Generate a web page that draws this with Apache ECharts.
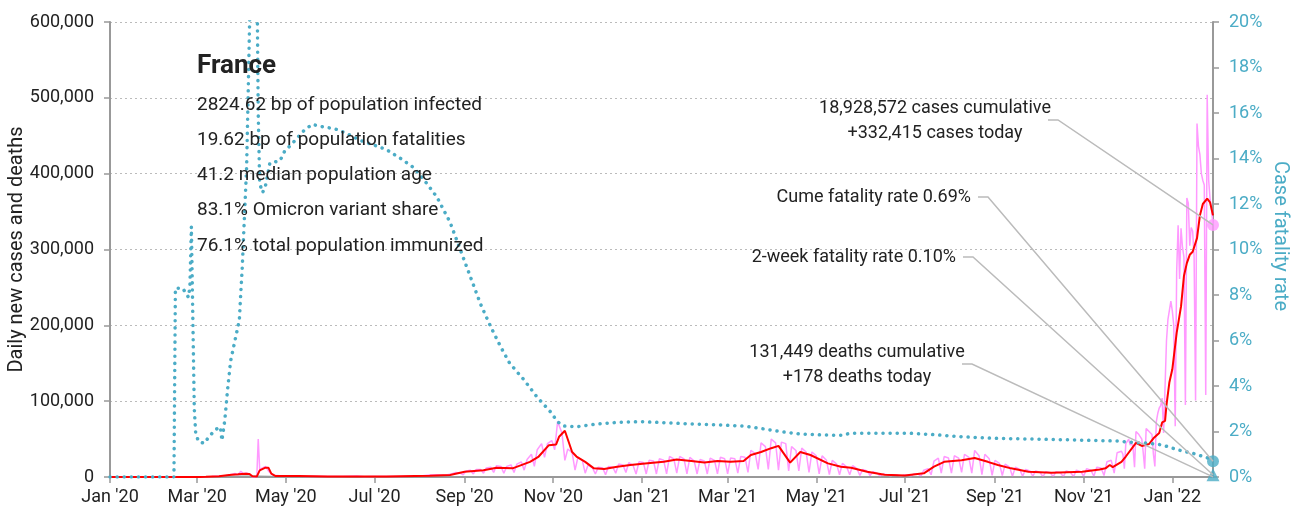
<!DOCTYPE html>
<html>
<head>
<meta charset="utf-8">
<title>France COVID-19</title>
<script src="https://cdn.jsdelivr.net/npm/echarts@6/dist/echarts.min.js"></script>
<style>
  html, body { margin: 0; padding: 0; background: #fff; }
  #main { width: 1295px; height: 515px; }
</style>
</head>
<body>
<div id="main"></div>
<script>
// day numbers count from 2020-01-01, case values in thousands
var T0 = Date.UTC(2020, 0, 1);
var DAY = 86400000;
var lastDay = 759; // 2022-01-29

var monthTicks = ['2020-01-01', '2020-03-01', '2020-05-01', '2020-07-01', '2020-09-01', '2020-11-01',
  '2021-01-01', '2021-03-01', '2021-05-01', '2021-07-01', '2021-09-01', '2021-11-01', '2022-01-01'];
var monthNames = ['Jan', 'Feb', 'Mar', 'Apr', 'May', 'Jun', 'Jul', 'Aug', 'Sep', 'Oct', 'Nov', 'Dec'];

// daily new cases, Jan - Aug 2020 [day, k]
var casesEarly = [[0, 0], [55, 0], [62, 0.1], [70, 0.5], [75, 1.2], [80, 2], [84, 3.8], [86, 4.6], [88, 2.6],
  [90, 7.5], [92, 4.3], [94, 5.2], [96, 3.5], [98, 0], [101, 0], [102, 50], [103, 10], [105, 12], [107, 14],
  [109, 8], [111, 4], [113, 1.5], [115, 2], [120, 1], [125, 1.5], [130, 1.2], [135, 0.5], [140, 1], [150, 0.6],
  [160, 0.5], [170, 1.2], [175, 0.4], [180, 0.6], [190, 0.5], [200, 0.8], [210, 1.3], [215, 1.5], [220, 2.5],
  [225, 3], [230, 2.2], [235, 4], [238, 6], [241, 5]];
// weekly [Mon, Wed, Sat] daily cases from Mon 2020-08-31 (day 243) to Mon 2021-11-22
var weeklyStart = 243;
var casesWeekly = [[3, 8, 9], [4, 10, 10], [5, 12, 13], [6, 15, 14], [5, 14, 16], [6, 17, 20], [9, 23, 30],
  [14, 36, 44], [26, 44, 48], [36, 73, 58], [22, 37, 32], [9, 26, 22], [5, 16, 12], [4, 13, 12], [3, 14, 13],
  [5, 17, 16], [6, 19, 15], [4, 20, 19], [4, 22, 21], [4, 24, 22], [4, 27, 24], [5, 27, 24], [4, 26, 21],
  [4, 23, 21], [4, 25, 22], [4, 26, 24], [4, 25, 24], [5, 27, 26], [6, 35, 31], [10, 45, 40], [10, 50, 45],
  [9, 46, 44], [8, 40, 35], [8, 38, 33], [6, 33, 28], [4, 28, 22], [3, 22, 17], [3, 18, 13], [3, 15, 11],
  [2, 10, 8], [2, 7, 5], [1, 4, 3], [0.5, 3, 2.5], [0.5, 2.5, 2.5], [0.5, 4, 4], [1, 9, 11], [3, 21, 25],
  [5, 27, 25], [5, 28, 25], [6, 30, 26], [5, 35, 28], [3, 30, 24], [2, 22, 18], [2, 17, 13], [1, 13, 10],
  [1, 10, 8], [1, 8, 6], [0.5, 7, 5.5], [0.5, 7, 5.5], [0.5, 8, 6], [0.5, 9, 7], [1, 11, 9], [1, 13, 12],
  [2, 20, 22], [5, 32, 34]];
// daily cases from Sun 2021-11-28 (day 697) to 2022-01-29
var lateStart = 697;
var casesLate = [30, 11, 44, 47, 50, 42, 45, 38, 13, 60, 58, 56, 54, 50, 32, 11, 64, 62, 60, 58, 56, 30,
  14, 73, 84, 91, 94, 104, 58, 60, 180, 208, 206, 232, 219, 200, 67, 271, 332, 261, 328, 303, 290, 95,
  368, 361, 305, 329, 324, 290, 101, 466, 436, 425, 400, 391, 385, 108, 504, 392, 366, 353, 332.415];

// 7-day average of new cases [day, k]
var casesAvg = [[0, 0], [62, 0], [66, 0.2], [75, 1], [82, 2.5], [88, 3.5], [93, 4.4], [96, 4], [98, 1], [101, 0.5],
  [103, 8.8], [107, 12.3], [109, 12.3], [111, 4.4], [114, 1.3], [130, 1.2], [150, 0.6], [170, 0.5], [190, 0.6],
  [210, 1.2], [220, 1.5], [234, 2.6], [244, 7], [257, 9], [266, 12.3], [277, 11.4], [289, 20], [295, 27],
  [302, 42], [307, 43], [309, 53], [313, 61], [318, 33], [321, 27], [327, 20], [333, 11.4], [340, 10.5],
  [349, 13.6], [358, 15.8], [370, 18], [381, 20], [390, 23], [400, 21], [409, 19], [418, 21], [427, 20],
  [436, 21], [441, 29], [448, 33], [455, 38], [460, 41], [468, 19], [475, 33], [482, 29], [494, 18],
  [503, 13.6], [510, 12.3], [521, 7], [533, 3], [547, 2], [560, 4.8], [567, 13.6], [574, 20], [586, 22],
  [595, 25], [604, 20], [611, 15.8], [620, 11.4], [632, 7], [648, 5.7], [669, 7], [681, 10], [685, 11.4],
  [688, 15.8], [690, 13], [696, 20], [699, 27], [706, 45], [710, 41], [715, 43.5], [718, 51], [722, 58],
  [724, 72], [726, 74], [727, 95], [729, 125], [731, 142], [734, 190], [737, 225], [739, 265], [741, 282],
  [743, 293], [745, 297], [748, 315], [750, 345], [752, 360], [755, 367], [757, 362], [759, 345]];

// daily deaths [day, count]
var deathsDaily = [[0, 0], [60, 0], [75, 100], [90, 1000], [100, 1000], [120, 300], [150, 50], [200, 15],
  [240, 30], [280, 100], [305, 400], [320, 450], [360, 250], [400, 350], [450, 300], [470, 350], [500, 150],
  [540, 30], [600, 100], [650, 30], [700, 100], [730, 200], [759, 178]];

// cumulative case fatality rate [day, %]
var fatalityRate = [[0, 0], [44, 0], [45, 8.3], [50, 8.3], [54, 7.9], [55, 8.4], [56, 11.0], [58, 3], [59, 1.9],
  [61, 1.55], [65, 1.48], [68, 1.77], [73, 2.1], [76, 2.2], [77, 1.6], [79, 2.5], [81, 3.9], [83, 5.1],
  [87, 6.3], [89, 6.9], [90, 8.1], [91, 9.2], [92, 10.7], [94, 13.6], [95, 16.6], [96, 19.8], [97, 23],
  [101, 23], [102, 16], [103, 12.9], [105, 12.5], [107, 12.8], [110, 13.8], [117, 13.9], [120, 14.3],
  [126, 14.7], [133, 15.2], [139, 15.5], [146, 15.4], [155, 15.3], [163, 15.1], [172, 14.8], [181, 14.6],
  [190, 14.4], [200, 14.0], [209, 13.6], [218, 12.9], [225, 12.3], [234, 11.2], [241, 10.0], [248, 8.8],
  [255, 7.6], [262, 6.6], [269, 5.7], [275, 5.0], [285, 4.26], [294, 3.5], [303, 2.87], [308, 2.43],
  [312, 2.24], [321, 2.21], [335, 2.33], [349, 2.40], [365, 2.43], [381, 2.39], [400, 2.33], [418, 2.29],
  [436, 2.24], [447, 2.14], [462, 1.99], [475, 1.89], [489, 1.85], [504, 1.83], [509, 1.92], [551, 1.92],
  [567, 1.86], [586, 1.77], [609, 1.70], [632, 1.67], [655, 1.64], [694, 1.58], [698, 1.55], [715, 1.48],
  [724, 1.41], [735, 1.19], [747, 1.01], [756, 0.82], [759, 0.69]];

var casesToday = 332415;
var deathsToday = 178;
var cumeRate = 0.69;
var twoWeekRate = 0.10;

var infoTitle = 'France';
var infoLines = ['2824.62 bp of population infected', '19.62 bp of population fatalities',
  '41.2 median population age', '83.1% Omicron variant share', '76.1% total population immunized'];

var FONT = 'Roboto, "Liberation Sans", sans-serif';
var TEAL = '#4bacc6';
var PINK = '#ff99ff';
var INK = '#222';

function kPairs(list) { return list.map(function (p) { return [p[0], p[1] * 1000]; }); }

var dailyCases = kPairs(casesEarly);
casesWeekly.forEach(function (w, i) {
  var m = weeklyStart + i * 7;
  dailyCases.push([m, w[0] * 1000], [m + 2, w[1] * 1000], [m + 5, w[2] * 1000]);
});
casesLate.forEach(function (v, i) { dailyCases.push([lateStart + i, v * 1000]); });

var tickDays = monthTicks.map(function (s) { return Math.round((Date.parse(s) - T0) / DAY); });

var chart = echarts.init(document.getElementById('main'));

var option = {
  animation: false,
  textStyle: { fontFamily: FONT },
  grid: { left: 110, right: 82, top: 22, bottom: 38, containLabel: false, outerBoundsMode: 'none' },
  xAxis: {
    type: 'value',
    min: 0,
    max: lastDay,
    axisLine: { lineStyle: { color: '#999', width: 2 } },
    axisTick: { show: true, length: 6, lineStyle: { color: '#999', width: 1.5 }, customValues: tickDays },
    axisLabel: {
      color: INK, fontSize: 18, fontFamily: FONT, margin: 11, customValues: tickDays,
      formatter: function (v) {
        var d = new Date(T0 + v * DAY);
        return monthNames[d.getUTCMonth()] + " '" + String(d.getUTCFullYear()).slice(2);
      }
    },
    splitLine: { show: false }
  },
  yAxis: [{
    type: 'value', min: 0, max: 600000, interval: 100000,
    name: 'Daily new cases and deaths', nameLocation: 'middle', nameGap: 83, nameMoveOverlap: false,
    nameTextStyle: { color: INK, fontSize: 20, fontFamily: FONT },
    axisLine: { show: true, lineStyle: { color: '#999', width: 2 } },
    axisTick: { show: true, length: 6, lineStyle: { color: '#999', width: 1.5 } },
    axisLabel: { color: INK, fontSize: 18, fontFamily: FONT, margin: 16,
      formatter: function (v) { return v.toLocaleString('en-US'); } },
    splitLine: { show: true, lineStyle: { color: '#bbb', type: [2, 3], width: 1 } }
  }, {
    type: 'value', min: 0, max: 20, interval: 2, position: 'right',
    axisLine: { show: true, lineStyle: { color: '#999', width: 2 } },
    axisTick: { show: true, length: 6, lineStyle: { color: '#999', width: 1.5 } },
    axisLabel: { color: TEAL, fontSize: 18, fontFamily: FONT, margin: 16, formatter: '{value}%' },
    splitLine: { show: false }
  }],
  series: [{
    name: 'Daily cases', type: 'line', data: dailyCases, showSymbol: false, symbol: 'none',
    lineStyle: { color: PINK, width: 1.5 }, z: 2
  }, {
    name: '7-day average', type: 'line', data: kPairs(casesAvg), symbol: 'none',
    lineStyle: { color: '#ff0000', width: 2 }, z: 3
  }, {
    name: 'Daily deaths', type: 'line', data: deathsDaily, symbol: 'none',
    lineStyle: { color: '#999', width: 1.5 }, z: 2
  }, {
    name: 'Case fatality rate', type: 'line', yAxisIndex: 1, symbol: 'none', clip: true,
    data: fatalityRate,
    lineStyle: { color: TEAL, width: 3.5, type: [0.1, 7], cap: 'round' }, z: 4
  }, {
    type: 'scatter', data: [[lastDay, casesToday]], symbol: 'circle', symbolSize: 12,
    itemStyle: { color: PINK }, z: 6, clip: false
  }, {
    type: 'scatter', yAxisIndex: 1, data: [[lastDay, cumeRate]], symbol: 'circle', symbolSize: 12,
    itemStyle: { color: TEAL }, z: 6, clip: false
  }, {
    type: 'scatter', yAxisIndex: 1, data: [[lastDay, twoWeekRate]], symbol: 'triangle', symbolSize: 13,
    itemStyle: { color: TEAL }, z: 6, clip: false
  }, {
    type: 'scatter', data: [[lastDay, deathsToday]], symbol: 'circle', symbolSize: 1,
    itemStyle: { color: '#999' }, z: 5, clip: false
  }]
};
chart.setOption(option);

function txt(x, y, s, align, size, weight, color, rot) {
  return { type: 'text', x: x, y: y, z: 20, silent: true, rotation: rot || 0,
    style: { text: s, align: align, verticalAlign: 'middle', fill: color || INK,
      fontSize: size || 18, fontWeight: weight || 'normal', fontFamily: FONT } };
}
function leader(x0, y0, seriesIndex, value) {
  var p = chart.convertToPixel({ seriesIndex: seriesIndex }, value);
  return { type: 'polyline', z: 15, silent: true,
    shape: { points: [[x0, y0], [x0 + 10, y0], p] },
    style: { stroke: '#bbb', lineWidth: 1.5, fill: null } };
}

var g = [txt(197, 66, infoTitle, 'left', 26, 'bold')];
infoLines.forEach(function (s, i) { g.push(txt(197, 105 + i * 35.2, s, 'left', 19)); });

// right axis title, reads top to bottom
g.push(txt(1280, 236, 'Case fatality rate', 'center', 20, 'normal', TEAL, -Math.PI / 2));

g.push(txt(935, 108, '18,928,572 cases cumulative', 'center'));
g.push(txt(935, 133, '+' + casesToday.toLocaleString('en-US') + ' cases today', 'center'));
g.push(leader(1048, 120, 4, [lastDay, casesToday]));

g.push(txt(971, 197, 'Cume fatality rate ' + cumeRate.toFixed(2) + '%', 'right'));
g.push(leader(978, 197, 5, [lastDay, cumeRate]));

g.push(txt(956, 257, '2-week fatality rate ' + twoWeekRate.toFixed(2) + '%', 'right'));
g.push(leader(963, 257, 6, [lastDay, twoWeekRate]));

g.push(txt(857, 352, '131,449 deaths cumulative', 'center'));
g.push(txt(857, 377, '+' + deathsToday + ' deaths today', 'center'));
g.push(leader(962, 364, 7, [lastDay, deathsToday]));

chart.setOption({ graphic: g });
</script>
</body>
</html>
